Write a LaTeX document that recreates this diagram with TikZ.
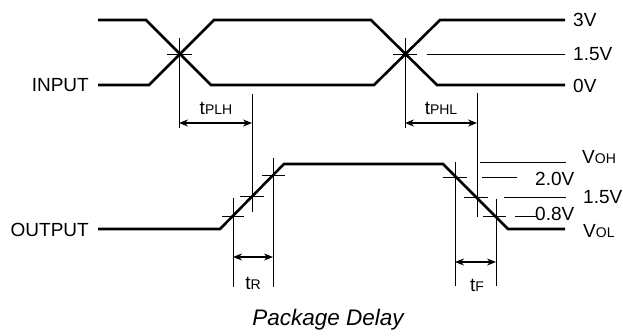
\documentclass[tikz,border=0pt]{standalone}
\usepackage{fontspec}
\setmainfont{Liberation Sans}
\usetikzlibrary{arrows.meta}
\newcommand{\smc}[1]{{\fontsize{14}{16}\selectfont #1}}
\tikzset{
  wave/.style={line width=2.6pt, line join=miter},
  hair/.style={line width=0.9pt},
  lbl/.style={inner sep=0pt, font=\fontsize{19}{22}\selectfont},
  dimarrow/.style={line width=1.8pt, {Stealth[length=9pt,width=7pt]}-{Stealth[length=9pt,width=7pt]}},
}
\begin{document}
\begin{tikzpicture}[x=1pt,y=-1pt]
\useasboundingbox (0,0) rectangle (623,336);
% ---------- input waveform ----------
\coordinate (a0) at (98,20);  \coordinate (a1) at (146,20); \coordinate (a2) at (211,85);
\coordinate (a3) at (374,85); \coordinate (a4) at (440,20); \coordinate (a5) at (565,20);
\coordinate (b0) at (98,85);  \coordinate (b1) at (149,85); \coordinate (b2) at (214,20);
\coordinate (b3) at (371,20); \coordinate (b4) at (437,85); \coordinate (b5) at (565,85);
\draw[wave] (a0) -- (a1) -- (a2) -- (a3) -- (a4) -- (a5);
\draw[wave] (b0) -- (b1) -- (b2) -- (b3) -- (b4) -- (b5);
% crossings
\coordinate (x1) at (180,54); \coordinate (x2) at (405,54);
\draw[hair] (167,54) -- (192,54);
\draw[hair] (393,54) -- (417,54);
\draw[hair] (427,54) -- (565,54);
% ---------- output waveform ----------
\coordinate (o0) at (98,229); \coordinate (o1) at (220,229); \coordinate (o2) at (284,164);
\coordinate (o3) at (443,164); \coordinate (o4) at (508,229); \coordinate (o5) at (565,229);
\draw[wave] (o0) -- (o1) -- (o2) -- (o3) -- (o4) -- (o5);
% rise crosshairs
\draw[hair] (222,216) -- (244,216);
\draw[hair] (240,196) -- (264,196);
\draw[hair] (262,175) -- (285,175);
% fall crosshairs
\draw[hair] (443,177) -- (467,177);
\draw[hair] (464,197) -- (488,197);
\draw[hair] (483,216) -- (506,216);
% vertical markers
\coordinate (v1t) at (179,38);  \coordinate (v1b) at (179,128);
\coordinate (v2t) at (252,94);  \coordinate (v2b) at (252,212);
\coordinate (v3t) at (405,38);  \coordinate (v3b) at (405,128);
\coordinate (v4t) at (477,93);  \coordinate (v4b) at (477,217);
\coordinate (v5t) at (233,198); \coordinate (v5b) at (233,287);
\coordinate (v6t) at (273,158); \coordinate (v6b) at (273,287);
\coordinate (v7t) at (455,162); \coordinate (v7b) at (455,286);
\coordinate (v8t) at (496,199); \coordinate (v8b) at (496,286);
\foreach \v in {1,...,8} \draw[hair] (v\v t) -- (v\v b);
% reference lines, output
\draw[hair] (480,162) -- (566,162);
\draw[hair] (482,177) -- (517,177);
\draw[hair] (504,197) -- (566,197);
\draw[hair] (515,216) -- (536,216);
% ---------- dimension arrows ----------
\coordinate (d1l) at (179,123); \coordinate (d1r) at (252,123);
\coordinate (d2l) at (405,123); \coordinate (d2r) at (477,123);
\coordinate (d3l) at (233,257); \coordinate (d3r) at (273,257);
\coordinate (d4l) at (455,262); \coordinate (d4r) at (496,262);
\draw[dimarrow] (d1l) -- (d1r);
\draw[dimarrow] (d2l) -- (d2r);
\draw[dimarrow] (d3l) -- (d3r);
\draw[dimarrow] (d4l) -- (d4r);
% ---------- labels ----------
\node[lbl, anchor=east] (inl) at (89,85) {INPUT};
\node[lbl, anchor=east] (outl) at (89,230) {OUTPUT};
\node[lbl, anchor=west] (l3v) at (573,20) {3V};
\node[lbl, anchor=west] (l15a) at (573,54) {1.5V};
\node[lbl, anchor=west] (l0v) at (573,86) {0V};
\node[lbl, anchor=west] (lvoh) at (582,157) {V\smc{OH}};
\node[lbl, anchor=west] (l20) at (535,179) {2.0V};
\node[lbl, anchor=west] (l15b) at (583,197) {1.5V};
\node[lbl, anchor=west] (l08) at (535,214) {0.8V};
\node[lbl, anchor=west] (lvol) at (583,231) {V\smc{OL}};
\node[lbl] (tplh) at (216,108) {t\smc{PLH}};
\node[lbl] (tphl) at (441,108) {t\smc{PHL}};
\node[lbl] (tr) at (253,283) {t\smc{R}};
\node[lbl] (tf) at (477,285) {t\smc{F}};
\node[inner sep=0pt, anchor=base, font=\fontsize{22.5}{26}\selectfont\itshape] (title) at (328,325) {Package Delay};
\end{tikzpicture}
\end{document}
